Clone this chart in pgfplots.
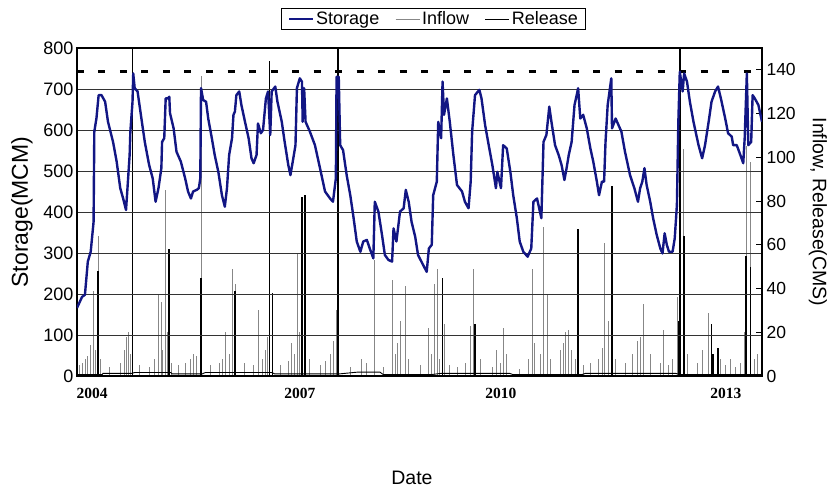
\documentclass[border=0pt]{standalone}
\usepackage{pgfplots}
\pgfplotsset{compat=1.18}
\usepackage{fontspec}
\setmainfont{Liberation Sans}
\newfontfamily\yearfont{Liberation Serif}

\definecolor{storageblue}{RGB}{18,22,132}
\definecolor{inflowgray}{RGB}{135,135,135}

% Reservoir storage (MCM), decimal year
\pgfplotstableread{
year storage
2004.00 166
2004.07 193
2004.11 198
2004.15 279
2004.19 303
2004.23 376
2004.24 596
2004.27 629
2004.30 685
2004.34 685
2004.39 669
2004.43 620
2004.50 571
2004.55 523
2004.60 458
2004.64 433
2004.68 405
2004.70 458
2004.73 539
2004.74 596
2004.77 669
2004.78 738
2004.80 702
2004.84 694
2004.90 620
2004.94 571
2005.00 515
2005.05 482
2005.09 425
2005.13 458
2005.17 507
2005.18 571
2005.21 580
2005.23 677
2005.26 677
2005.28 681
2005.29 641
2005.34 604
2005.38 547
2005.44 523
2005.50 482
2005.54 450
2005.58 433
2005.61 450
2005.66 454
2005.69 458
2005.71 482
2005.72 702
2005.75 673
2005.79 669
2005.82 628
2005.87 580
2005.91 539
2005.96 498
2006.01 441
2006.05 413
2006.08 458
2006.11 539
2006.15 580
2006.17 637
2006.19 645
2006.21 685
2006.25 694
2006.28 661
2006.33 620
2006.38 580
2006.42 531
2006.45 519
2006.49 539
2006.51 616
2006.55 592
2006.58 600
2006.62 677
2006.65 694
2006.68 588
2006.70 694
2006.75 706
2006.78 669
2006.84 620
2006.88 571
2006.93 515
2006.96 490
2007.00 531
2007.03 563
2007.05 702
2007.09 726
2007.12 718
2007.13 620
2007.15 702
2007.17 620
2007.23 596
2007.30 563
2007.37 507
2007.44 450
2007.51 433
2007.55 425
2007.59 482
2007.60 730
2007.63 730
2007.65 563
2007.69 551
2007.74 490
2007.79 441
2007.83 393
2007.88 328
2007.93 303
2007.97 328
2008.02 332
2008.06 311
2008.11 287
2008.13 425
2008.18 401
2008.23 344
2008.27 295
2008.32 283
2008.37 279
2008.39 360
2008.43 328
2008.48 401
2008.53 409
2008.56 454
2008.60 425
2008.64 376
2008.69 340
2008.73 295
2008.80 271
2008.85 254
2008.88 311
2008.92 320
2008.94 441
2008.99 474
2009.01 620
2009.05 580
2009.07 718
2009.09 637
2009.13 677
2009.17 620
2009.22 539
2009.27 466
2009.34 450
2009.38 425
2009.43 409
2009.46 474
2009.48 596
2009.52 685
2009.58 698
2009.61 677
2009.66 612
2009.71 563
2009.76 515
2009.81 458
2009.83 498
2009.88 458
2009.91 563
2009.96 555
2010.01 498
2010.05 441
2010.10 385
2010.14 328
2010.19 303
2010.25 291
2010.30 311
2010.33 425
2010.38 433
2010.44 385
2010.47 571
2010.51 588
2010.55 657
2010.58 620
2010.63 563
2010.68 539
2010.72 515
2010.76 478
2010.79 507
2010.82 539
2010.86 571
2010.90 661
2010.93 685
2010.95 702
2010.98 628
2011.02 637
2011.07 604
2011.12 555
2011.16 523
2011.21 474
2011.24 441
2011.28 474
2011.31 474
2011.33 571
2011.36 661
2011.41 726
2011.42 604
2011.47 628
2011.51 612
2011.55 596
2011.60 547
2011.67 490
2011.73 458
2011.78 425
2011.81 458
2011.84 474
2011.87 507
2011.90 466
2011.95 425
2011.99 385
2012.04 344
2012.09 311
2012.12 299
2012.15 348
2012.18 320
2012.21 303
2012.26 303
2012.29 336
2012.32 417
2012.34 620
2012.36 742
2012.40 694
2012.42 738
2012.46 718
2012.50 669
2012.55 620
2012.62 563
2012.67 531
2012.71 563
2012.76 620
2012.80 669
2012.85 694
2012.89 706
2012.93 677
2012.99 628
2013.03 592
2013.08 584
2013.10 563
2013.15 563
2013.20 539
2013.24 519
2013.26 580
2013.29 738
2013.31 563
2013.35 571
2013.37 685
2013.40 677
2013.45 661
2013.50 620
}\storagetable

% Inflow peaks (CMS)
\pgfplotstableread{
year inflow
2004.04 5
2004.08 6
2004.11 8
2004.15 9
2004.19 14
2004.23 39
2004.25 12
2004.30 64
2004.33 8
2004.45 4
2004.60 6
2004.66 12
2004.69 18
2004.71 20
2004.74 10
2004.86 5
2005.00 4
2005.08 8
2005.13 37
2005.17 34
2005.19 12
2005.23 85
2005.25 20
2005.31 6
2005.40 5
2005.50 6
2005.57 8
2005.61 10
2005.66 9
2005.72 137
2005.85 5
2005.98 6
2006.02 8
2006.06 20
2006.11 10
2006.15 49
2006.19 42
2006.32 6
2006.45 5
2006.51 30
2006.57 8
2006.61 12
2006.64 18
2006.67 22
2006.82 5
2006.93 7
2006.98 15
2007.01 10
2007.05 56
2007.08 20
2007.23 8
2007.37 5
2007.45 7
2007.52 10
2007.56 16
2007.60 30
2007.61 71
2007.79 4
2007.95 8
2008.01 6
2008.13 53
2008.25 4
2008.37 44
2008.41 10
2008.45 15
2008.48 25
2008.55 41
2008.59 8
2008.76 5
2008.88 22
2008.92 10
2008.96 42
2009.00 49
2009.03 8
2009.10 24
2009.17 5
2009.28 4
2009.38 6
2009.45 23
2009.50 49
2009.53 12
2009.59 8
2009.76 4
2009.81 12
2009.87 6
2009.91 22
2009.95 10
2010.14 3
2010.26 8
2010.32 49
2010.35 15
2010.42 10
2010.47 68
2010.53 37
2010.56 8
2010.70 12
2010.74 15
2010.78 20
2010.81 21
2010.85 12
2010.91 8
2010.95 26
2011.02 5
2011.12 6
2011.23 8
2011.28 13
2011.32 61
2011.37 25
2011.46 8
2011.60 6
2011.70 10
2011.77 16
2011.81 18
2011.85 33
2011.95 10
2012.09 6
2012.13 21
2012.20 5
2012.26 8
2012.32 36
2012.41 104
2012.47 10
2012.61 6
2012.68 12
2012.76 29
2012.83 10
2012.92 8
2012.99 5
2013.06 8
2013.13 4
2013.20 6
2013.25 20
2013.28 105
2013.34 98
2013.40 8
2013.44 10
}\inflowtable

% Release peaks (CMS)
\pgfplotstableread{
year release
2004.29 48
2004.77 165
2005.28 58
2005.72 45
2006.19 39
2006.67 144
2006.71 38
2007.12 82
2007.16 83
2007.62 165
2009.07 45
2009.52 24
2010.95 67
2011.42 87
2012.35 25
2012.36 165
2012.42 64
2012.80 24
2012.82 10
2012.89 13
2013.28 55
2013.34 50
}\releasetable

% Base release between peaks (CMS)
\pgfplotstableread{
year base
2004.00 0.6
2004.35 0.6
2004.36 1.2
2004.76 1.2
2004.80 1.6
2005.30 1.6
2005.32 1.0
2005.74 1.0
2005.78 1.6
2006.70 1.6
2006.74 1.0
2007.65 1.0
2007.90 1.8
2008.20 1.8
2008.25 0.6
2008.90 0.6
2009.05 1.2
2010.00 1.2
2010.05 0.6
2011.00 0.6
2011.05 1.2
2012.30 1.2
2012.38 0.6
2013.50 0.6
}\basetable

\begin{document}
\begin{tikzpicture}
\useasboundingbox (-77pt,-114pt) rectangle (753pt,376pt);

% Inflow and release on the right-hand axis
\begin{axis}[
  scale only axis, width=685pt, height=328pt,
  at={(0pt,0pt)}, anchor=south west,
  xmin=2004, xmax=2013.5, ymin=0, ymax=150,
  axis x line=none, axis y line*=right,
  ytick={0,20,...,140},
  tick align=inside, major tick length=6pt,
  ytick style={black, line width=0.8pt},
  axis line style={black, line width=0.9pt},
  /pgf/number format/assume math mode=true,
  yticklabel style={font=\fontsize{17.5}{20}\selectfont, xshift=1pt},
  ylabel={Inflow, Release(CMS)},
  ylabel style={font=\fontsize{19.5}{24}\selectfont, at={(axis description cs:1.0815,0.5)}, anchor=center, rotate=180},
  clip=true,
]
\addplot[ycomb, color=inflowgray, line width=0.8pt] table[x=year, y=inflow] {\inflowtable};
\addplot[ycomb, color=black, line width=1.6pt] table[x=year, y=release] {\releasetable};
\addplot[black, line width=0.9pt] table[x=year, y=base] {\basetable};
\end{axis}

% Storage on the left-hand axis
\begin{axis}[
  scale only axis, width=685pt, height=328pt,
  at={(0pt,0pt)}, anchor=south west,
  xmin=2004, xmax=2013.5, ymin=0, ymax=800,
  ytick={0,100,...,800}, ytick pos=left,
  xtick={2004.21,2007.09,2009.88,2013.0},
  xticklabels={2004,2007,2010,2013}, xtick pos=bottom,
  major tick length=0pt,
  ymajorgrids, grid style={black!80, line width=0.9pt},
  axis line style={black, line width=1.1pt},
  /pgf/number format/assume math mode=true,
  yticklabel style={font=\fontsize{18}{20}\selectfont},
  xticklabel style={font=\yearfont\bfseries\fontsize{15.5}{18}\selectfont, anchor=center, yshift=-17pt},
  ylabel={Storage(MCM)},
  ylabel style={font=\fontsize{23}{26}\selectfont, at={(axis description cs:-0.0803,0.5)}, anchor=center},
  xlabel={Date},
  xlabel style={font=\fontsize{19.5}{22}\selectfont, at={(axis description cs:0.489,-0.311)}, anchor=center},
  legend columns=3,
  legend style={at={(axis description cs:0.521,1.088)}, anchor=center,
    draw=black, line width=0.9pt, font=\fontsize{18}{20}\selectfont,
    inner xsep=6pt, inner ysep=1pt,
    /tikz/every even column/.append style={column sep=14pt}},
  legend image code/.code={\draw[#1] (0pt,0pt) -- (24pt,0pt);},
]
\addplot[black, line width=3pt, dash pattern=on 7pt off 14.5pt, forget plot] coordinates {(2004.0,742) (2013.43,742)};
\addplot[storageblue, line width=2.4pt, line join=round] table[x=year, y=storage] {\storagetable};
\addlegendentry{Storage}
\addlegendimage{inflowgray, line width=0.8pt}
\addlegendentry{Inflow}
\addlegendimage{black, line width=0.8pt}
\addlegendentry{Release}
\end{axis}
\end{tikzpicture}
\end{document}
